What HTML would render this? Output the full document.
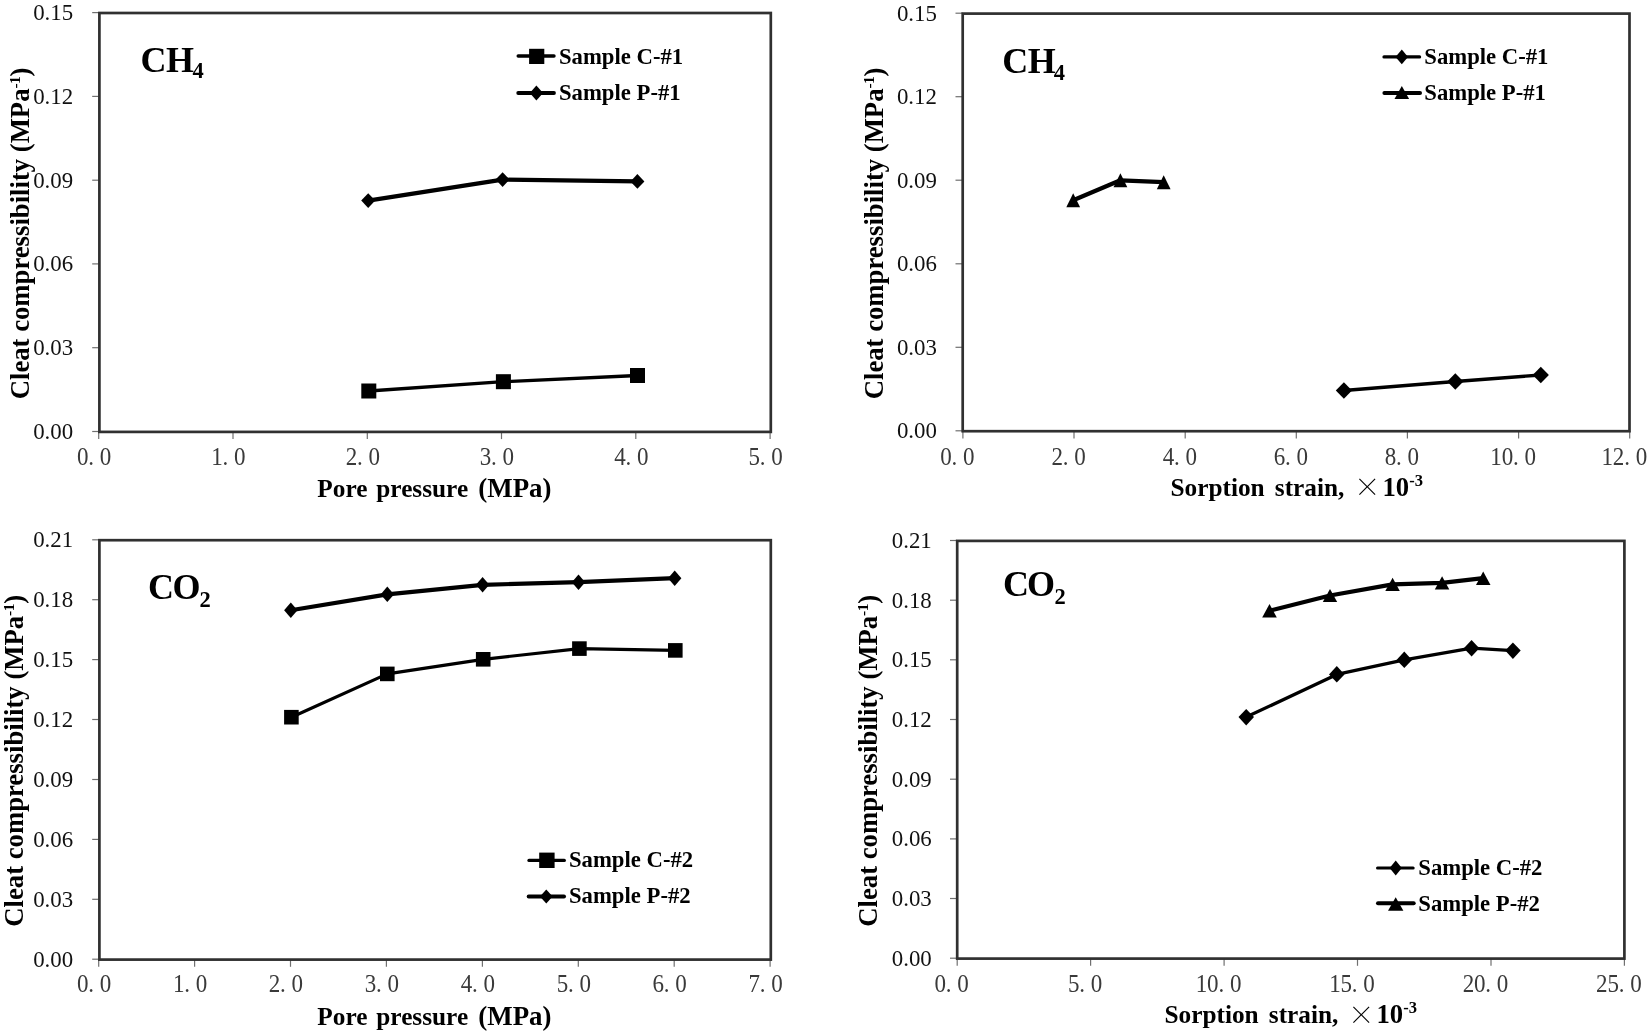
<!DOCTYPE html>
<html lang="en"><head><meta charset="utf-8"><title>Cleat compressibility charts</title>
<style>
html,body{margin:0;padding:0;background:#fff;}
body{width:1650px;height:1035px;overflow:hidden;}
svg{display:block;filter:blur(0.55px);}
text{font-family:"Liberation Serif", serif;fill:#1a1a1a;}
.fr{fill:none;stroke:#303030;stroke-width:2.7;}
.tk{stroke:#707070;stroke-width:1.2;}
.ln{fill:none;stroke:#000;stroke-linejoin:round;}
.yt{font-size:24px;fill:#111;}
.xt{fill:#3a3a3a;}
.lg{font-size:22.7px;font-weight:bold;fill:#000;}
.gas{font-size:36px;font-weight:bold;fill:#000;}
.ttl{font-size:25.3px;font-weight:bold;fill:#000;}
.ytl{font-size:26.7px;font-weight:bold;fill:#000;}
.mul{font-family:"Noto Serif CJK SC","Liberation Serif",serif;font-weight:400;}
</style></head><body>
<svg width="1650" height="1035" viewBox="0 0 1650 1035">
<rect width="1650" height="1035" fill="#fff"/>
<g>
<line class="tk" x1="92.2" x2="99.4" y1="431.5" y2="431.5"/>
<text class="yt" text-anchor="end" textLength="40" lengthAdjust="spacingAndGlyphs" x="73.2" y="438.8">0.00</text>
<line class="tk" x1="92.2" x2="99.4" y1="347.7" y2="347.7"/>
<text class="yt" text-anchor="end" textLength="40" lengthAdjust="spacingAndGlyphs" x="73.2" y="355.0">0.03</text>
<line class="tk" x1="92.2" x2="99.4" y1="263.9" y2="263.9"/>
<text class="yt" text-anchor="end" textLength="40" lengthAdjust="spacingAndGlyphs" x="73.2" y="271.2">0.06</text>
<line class="tk" x1="92.2" x2="99.4" y1="180.2" y2="180.2"/>
<text class="yt" text-anchor="end" textLength="40" lengthAdjust="spacingAndGlyphs" x="73.2" y="187.5">0.09</text>
<line class="tk" x1="92.2" x2="99.4" y1="96.4" y2="96.4"/>
<text class="yt" text-anchor="end" textLength="40" lengthAdjust="spacingAndGlyphs" x="73.2" y="103.7">0.12</text>
<line class="tk" x1="92.2" x2="99.4" y1="12.6" y2="12.6"/>
<text class="yt" text-anchor="end" textLength="40" lengthAdjust="spacingAndGlyphs" x="73.2" y="19.9">0.15</text>
<line class="tk" x1="98.7" x2="98.7" y1="431.9" y2="439.1"/>
<text class="xt" text-anchor="middle" transform="translate(94.2,464.6) scale(0.94,1)" x="-12.1 -3.2 12.1" y="0" font-size="24.5">0.0</text>
<line class="tk" x1="233.0" x2="233.0" y1="431.9" y2="439.1"/>
<text class="xt" text-anchor="middle" transform="translate(228.5,464.6) scale(0.94,1)" x="-12.1 -3.2 12.1" y="0" font-size="24.5">1.0</text>
<line class="tk" x1="367.3" x2="367.3" y1="431.9" y2="439.1"/>
<text class="xt" text-anchor="middle" transform="translate(362.8,464.6) scale(0.94,1)" x="-12.1 -3.2 12.1" y="0" font-size="24.5">2.0</text>
<line class="tk" x1="501.5" x2="501.5" y1="431.9" y2="439.1"/>
<text class="xt" text-anchor="middle" transform="translate(497.0,464.6) scale(0.94,1)" x="-12.1 -3.2 12.1" y="0" font-size="24.5">3.0</text>
<line class="tk" x1="635.8" x2="635.8" y1="431.9" y2="439.1"/>
<text class="xt" text-anchor="middle" transform="translate(631.3,464.6) scale(0.94,1)" x="-12.1 -3.2 12.1" y="0" font-size="24.5">4.0</text>
<line class="tk" x1="770.1" x2="770.1" y1="431.9" y2="439.1"/>
<text class="xt" text-anchor="middle" transform="translate(765.6,464.6) scale(0.94,1)" x="-12.1 -3.2 12.1" y="0" font-size="24.5">5.0</text>
<rect class="fr" x="99.4" y="13.0" width="671.4" height="418.9"/>
<polyline class="ln" stroke-width="4.2" points="368.2,200.6 502.6,179.6 637.4,181.4"/>
<polygon points="368.2,193.3 375.2,200.6 368.2,207.9 361.2,200.6"/>
<polygon points="502.6,172.3 509.6,179.6 502.6,186.9 495.6,179.6"/>
<polygon points="637.4,174.1 644.4,181.4 637.4,188.7 630.4,181.4"/>
<polyline class="ln" stroke-width="3.3" points="368.8,391.0 503.4,381.7 637.5,375.5"/>
<rect x="361.3" y="383.5" width="15.0" height="15.0"/>
<rect x="495.9" y="374.2" width="15.0" height="15.0"/>
<rect x="630.0" y="368.0" width="15.0" height="15.0"/>
<line class="ln" stroke-linecap="round" stroke-width="3.4" x1="518.2" x2="554.0" y1="56.0" y2="56.0"/>
<rect x="529.1" y="48.8" width="15.2" height="15.2"/>
<text class="lg" x="559.0" y="63.8">Sample C-#1</text>
<line class="ln" stroke-linecap="round" stroke-width="3.8" x1="518.2" x2="554.0" y1="93.0" y2="93.0"/>
<polygon points="536.4,85.5 543.0,93.0 536.4,100.5 529.8,93.0"/>
<text class="lg" x="559.0" y="100.2">Sample P-#1</text>
<text class="gas" x="140.5" y="71.8">C<tspan dx="-0.5">H</tspan><tspan font-size="22.5" dx="-1.5" dy="6.5">4</tspan></text>
<text class="ytl" transform="translate(29.3,399.3) rotate(-90)">Cleat compressibility (MPa<tspan font-size="15.5" dy="-9.3" letter-spacing="-0.6">-1</tspan><tspan dy="9.3" dx="0.3">)</tspan></text>
<text class="ttl" y="497.3"><tspan x="317.3">Pore </tspan><tspan x="376.3">pressure </tspan><tspan font-size="26.9" x="478.3">(MPa)</tspan></text>
</g>
<g>
<line class="tk" x1="955.5" x2="962.7" y1="430.8" y2="430.8"/>
<text class="yt" text-anchor="end" textLength="40" lengthAdjust="spacingAndGlyphs" x="936.9" y="438.1">0.00</text>
<line class="tk" x1="955.5" x2="962.7" y1="347.3" y2="347.3"/>
<text class="yt" text-anchor="end" textLength="40" lengthAdjust="spacingAndGlyphs" x="936.9" y="354.6">0.03</text>
<line class="tk" x1="955.5" x2="962.7" y1="263.8" y2="263.8"/>
<text class="yt" text-anchor="end" textLength="40" lengthAdjust="spacingAndGlyphs" x="936.9" y="271.1">0.06</text>
<line class="tk" x1="955.5" x2="962.7" y1="180.2" y2="180.2"/>
<text class="yt" text-anchor="end" textLength="40" lengthAdjust="spacingAndGlyphs" x="936.9" y="187.5">0.09</text>
<line class="tk" x1="955.5" x2="962.7" y1="96.7" y2="96.7"/>
<text class="yt" text-anchor="end" textLength="40" lengthAdjust="spacingAndGlyphs" x="936.9" y="104.0">0.12</text>
<line class="tk" x1="955.5" x2="962.7" y1="13.2" y2="13.2"/>
<text class="yt" text-anchor="end" textLength="40" lengthAdjust="spacingAndGlyphs" x="936.9" y="20.5">0.15</text>
<line class="tk" x1="962.9" x2="962.9" y1="431.2" y2="438.4"/>
<text class="xt" text-anchor="middle" transform="translate(957.5,464.5) scale(0.94,1)" x="-12.1 -3.2 12.1" y="0" font-size="24.5">0.0</text>
<line class="tk" x1="1074.0" x2="1074.0" y1="431.2" y2="438.4"/>
<text class="xt" text-anchor="middle" transform="translate(1068.6,464.5) scale(0.94,1)" x="-12.1 -3.2 12.1" y="0" font-size="24.5">2.0</text>
<line class="tk" x1="1185.2" x2="1185.2" y1="431.2" y2="438.4"/>
<text class="xt" text-anchor="middle" transform="translate(1179.8,464.5) scale(0.94,1)" x="-12.1 -3.2 12.1" y="0" font-size="24.5">4.0</text>
<line class="tk" x1="1296.3" x2="1296.3" y1="431.2" y2="438.4"/>
<text class="xt" text-anchor="middle" transform="translate(1290.9,464.5) scale(0.94,1)" x="-12.1 -3.2 12.1" y="0" font-size="24.5">6.0</text>
<line class="tk" x1="1407.4" x2="1407.4" y1="431.2" y2="438.4"/>
<text class="xt" text-anchor="middle" transform="translate(1402.0,464.5) scale(0.94,1)" x="-12.1 -3.2 12.1" y="0" font-size="24.5">8.0</text>
<line class="tk" x1="1518.6" x2="1518.6" y1="431.2" y2="438.4"/>
<text class="xt" text-anchor="middle" transform="translate(1513.2,464.5) scale(0.94,1)" x="-18.2 -6.1 2.9 18.2" y="0" font-size="24.5">10.0</text>
<line class="tk" x1="1629.7" x2="1629.7" y1="431.2" y2="438.4"/>
<text class="xt" text-anchor="middle" transform="translate(1624.3,464.5) scale(0.94,1)" x="-18.2 -6.1 2.9 18.2" y="0" font-size="24.5">12.0</text>
<rect class="fr" x="962.7" y="13.6" width="666.8" height="417.6"/>
<polyline class="ln" stroke-width="4.2" points="1073.2,200.2 1120.4,180.3 1163.7,182.2"/>
<polygon points="1073.2,193.2 1080.1,207.2 1066.3,207.2"/>
<polygon points="1120.4,173.3 1127.3,187.3 1113.5,187.3"/>
<polygon points="1163.7,175.2 1170.6,189.2 1156.8,189.2"/>
<polyline class="ln" stroke-width="3.3" points="1343.9,390.5 1455.3,381.5 1540.8,375.0"/>
<polygon points="1343.9,382.2 1352.0,390.5 1343.9,398.8 1335.8,390.5"/>
<polygon points="1455.3,373.2 1463.4,381.5 1455.3,389.8 1447.2,381.5"/>
<polygon points="1540.8,366.7 1548.9,375.0 1540.8,383.3 1532.7,375.0"/>
<line class="ln" stroke-linecap="round" stroke-width="3.2" x1="1384.0" x2="1419.6" y1="56.9" y2="56.9"/>
<polygon points="1401.8,49.6 1408.0,56.9 1401.8,64.2 1395.5,56.9"/>
<text class="lg" x="1424.3" y="63.8">Sample C-#1</text>
<line class="ln" stroke-linecap="round" stroke-width="4.0" x1="1384.4" x2="1420.0" y1="93.0" y2="93.0"/>
<polygon points="1401.8,86.0 1409.1,99.0 1394.5,99.0"/>
<text class="lg" x="1424.3" y="100.2">Sample P-#1</text>
<text class="gas" x="1002.3" y="73.0">C<tspan dx="-0.6">H</tspan><tspan font-size="22.5" dx="-2.0" dy="6.5">4</tspan></text>
<text class="ytl" transform="translate(882.8,399.3) rotate(-90)">Cleat compressibility (MPa<tspan font-size="15.5" dy="-9.3" letter-spacing="-0.6">-1</tspan><tspan dy="9.3" dx="0.3">)</tspan></text>
<text class="ttl" y="495.5"><tspan x="1170.5">Sorption </tspan><tspan x="1274.8">strain, </tspan><tspan class="mul" font-size="27" dy="1.6" x="1353.7">×</tspan><tspan font-size="26.7" dy="-1.6" x="1382.5">10</tspan><tspan font-size="16.5" dy="-10">-3</tspan></text>
</g>
<g>
<line class="tk" x1="92.2" x2="99.4" y1="959.2" y2="959.2"/>
<text class="yt" text-anchor="end" textLength="40" lengthAdjust="spacingAndGlyphs" x="73.2" y="966.5">0.00</text>
<line class="tk" x1="92.2" x2="99.4" y1="899.3" y2="899.3"/>
<text class="yt" text-anchor="end" textLength="40" lengthAdjust="spacingAndGlyphs" x="73.2" y="906.6">0.03</text>
<line class="tk" x1="92.2" x2="99.4" y1="839.4" y2="839.4"/>
<text class="yt" text-anchor="end" textLength="40" lengthAdjust="spacingAndGlyphs" x="73.2" y="846.7">0.06</text>
<line class="tk" x1="92.2" x2="99.4" y1="779.5" y2="779.5"/>
<text class="yt" text-anchor="end" textLength="40" lengthAdjust="spacingAndGlyphs" x="73.2" y="786.8">0.09</text>
<line class="tk" x1="92.2" x2="99.4" y1="719.5" y2="719.5"/>
<text class="yt" text-anchor="end" textLength="40" lengthAdjust="spacingAndGlyphs" x="73.2" y="726.8">0.12</text>
<line class="tk" x1="92.2" x2="99.4" y1="659.6" y2="659.6"/>
<text class="yt" text-anchor="end" textLength="40" lengthAdjust="spacingAndGlyphs" x="73.2" y="666.9">0.15</text>
<line class="tk" x1="92.2" x2="99.4" y1="599.7" y2="599.7"/>
<text class="yt" text-anchor="end" textLength="40" lengthAdjust="spacingAndGlyphs" x="73.2" y="607.0">0.18</text>
<line class="tk" x1="92.2" x2="99.4" y1="539.8" y2="539.8"/>
<text class="yt" text-anchor="end" textLength="40" lengthAdjust="spacingAndGlyphs" x="73.2" y="547.1">0.21</text>
<line class="tk" x1="98.7" x2="98.7" y1="959.6" y2="966.8"/>
<text class="xt" text-anchor="middle" transform="translate(94.2,991.8) scale(0.94,1)" x="-12.1 -3.2 12.1" y="0" font-size="24.5">0.0</text>
<line class="tk" x1="194.6" x2="194.6" y1="959.6" y2="966.8"/>
<text class="xt" text-anchor="middle" transform="translate(190.1,991.8) scale(0.94,1)" x="-12.1 -3.2 12.1" y="0" font-size="24.5">1.0</text>
<line class="tk" x1="290.5" x2="290.5" y1="959.6" y2="966.8"/>
<text class="xt" text-anchor="middle" transform="translate(286.0,991.8) scale(0.94,1)" x="-12.1 -3.2 12.1" y="0" font-size="24.5">2.0</text>
<line class="tk" x1="386.4" x2="386.4" y1="959.6" y2="966.8"/>
<text class="xt" text-anchor="middle" transform="translate(381.9,991.8) scale(0.94,1)" x="-12.1 -3.2 12.1" y="0" font-size="24.5">3.0</text>
<line class="tk" x1="482.4" x2="482.4" y1="959.6" y2="966.8"/>
<text class="xt" text-anchor="middle" transform="translate(477.9,991.8) scale(0.94,1)" x="-12.1 -3.2 12.1" y="0" font-size="24.5">4.0</text>
<line class="tk" x1="578.3" x2="578.3" y1="959.6" y2="966.8"/>
<text class="xt" text-anchor="middle" transform="translate(573.8,991.8) scale(0.94,1)" x="-12.1 -3.2 12.1" y="0" font-size="24.5">5.0</text>
<line class="tk" x1="674.2" x2="674.2" y1="959.6" y2="966.8"/>
<text class="xt" text-anchor="middle" transform="translate(669.7,991.8) scale(0.94,1)" x="-12.1 -3.2 12.1" y="0" font-size="24.5">6.0</text>
<line class="tk" x1="770.1" x2="770.1" y1="959.6" y2="966.8"/>
<text class="xt" text-anchor="middle" transform="translate(765.6,991.8) scale(0.94,1)" x="-12.1 -3.2 12.1" y="0" font-size="24.5">7.0</text>
<rect class="fr" x="99.4" y="540.2" width="671.4" height="419.4"/>
<polyline class="ln" stroke-width="4.2" points="290.8,610.3 387.3,594.4 482.6,584.8 578.5,582.2 674.7,578.2"/>
<polygon points="290.8,602.5 297.5,610.3 290.8,618.0 284.1,610.3"/>
<polygon points="387.3,586.6 394.0,594.4 387.3,602.1 380.6,594.4"/>
<polygon points="482.6,577.0 489.3,584.8 482.6,592.5 475.9,584.8"/>
<polygon points="578.5,574.5 585.2,582.2 578.5,590.0 571.8,582.2"/>
<polygon points="674.7,570.5 681.4,578.2 674.7,586.0 668.0,578.2"/>
<polyline class="ln" stroke-width="3.2" points="291.4,717.2 387.3,673.9 483.2,659.3 579.4,648.6 675.3,650.4"/>
<rect x="284.1" y="709.9" width="14.6" height="14.6"/>
<rect x="380.0" y="666.6" width="14.6" height="14.6"/>
<rect x="475.9" y="652.0" width="14.6" height="14.6"/>
<rect x="572.1" y="641.3" width="14.6" height="14.6"/>
<rect x="668.0" y="643.1" width="14.6" height="14.6"/>
<line class="ln" stroke-linecap="round" stroke-width="3.3" x1="529.0" x2="564.3" y1="860.4" y2="860.4"/>
<rect x="539.2" y="852.6" width="15.4" height="15.4"/>
<text class="lg" x="569.0" y="867.2">Sample C-#2</text>
<line class="ln" stroke-linecap="round" stroke-width="4.0" x1="528.7" x2="564.0" y1="896.4" y2="896.4"/>
<polygon points="546.3,889.4 552.6,896.4 546.3,903.4 539.9,896.4"/>
<text class="lg" x="569.0" y="903.2">Sample P-#2</text>
<text class="gas" x="148.1" y="599.0">C<tspan dx="-1.6">O</tspan><tspan font-size="22.5" dx="-1.0" dy="7.5">2</tspan></text>
<text class="ytl" transform="translate(23.3,926.7) rotate(-90)">Cleat compressibility (MPa<tspan font-size="15.5" dy="-9.3" letter-spacing="-0.6">-1</tspan><tspan dy="9.3" dx="0.3">)</tspan></text>
<text class="ttl" y="1025.0"><tspan x="317.3">Pore </tspan><tspan x="376.3">pressure </tspan><tspan font-size="26.9" x="478.3">(MPa)</tspan></text>
</g>
<g>
<line class="tk" x1="950.0" x2="957.2" y1="958.2" y2="958.2"/>
<text class="yt" text-anchor="end" textLength="40" lengthAdjust="spacingAndGlyphs" x="931.8" y="965.5">0.00</text>
<line class="tk" x1="950.0" x2="957.2" y1="898.5" y2="898.5"/>
<text class="yt" text-anchor="end" textLength="40" lengthAdjust="spacingAndGlyphs" x="931.8" y="905.8">0.03</text>
<line class="tk" x1="950.0" x2="957.2" y1="838.9" y2="838.9"/>
<text class="yt" text-anchor="end" textLength="40" lengthAdjust="spacingAndGlyphs" x="931.8" y="846.2">0.06</text>
<line class="tk" x1="950.0" x2="957.2" y1="779.2" y2="779.2"/>
<text class="yt" text-anchor="end" textLength="40" lengthAdjust="spacingAndGlyphs" x="931.8" y="786.5">0.09</text>
<line class="tk" x1="950.0" x2="957.2" y1="719.5" y2="719.5"/>
<text class="yt" text-anchor="end" textLength="40" lengthAdjust="spacingAndGlyphs" x="931.8" y="726.8">0.12</text>
<line class="tk" x1="950.0" x2="957.2" y1="659.8" y2="659.8"/>
<text class="yt" text-anchor="end" textLength="40" lengthAdjust="spacingAndGlyphs" x="931.8" y="667.1">0.15</text>
<line class="tk" x1="950.0" x2="957.2" y1="600.2" y2="600.2"/>
<text class="yt" text-anchor="end" textLength="40" lengthAdjust="spacingAndGlyphs" x="931.8" y="607.5">0.18</text>
<line class="tk" x1="950.0" x2="957.2" y1="540.5" y2="540.5"/>
<text class="yt" text-anchor="end" textLength="40" lengthAdjust="spacingAndGlyphs" x="931.8" y="547.8">0.21</text>
<line class="tk" x1="957.2" x2="957.2" y1="958.6" y2="965.8"/>
<text class="xt" text-anchor="middle" transform="translate(951.7,992.1) scale(0.94,1)" x="-12.1 -3.2 12.1" y="0" font-size="24.5">0.0</text>
<line class="tk" x1="1090.6" x2="1090.6" y1="958.6" y2="965.8"/>
<text class="xt" text-anchor="middle" transform="translate(1085.1,992.1) scale(0.94,1)" x="-12.1 -3.2 12.1" y="0" font-size="24.5">5.0</text>
<line class="tk" x1="1224.1" x2="1224.1" y1="958.6" y2="965.8"/>
<text class="xt" text-anchor="middle" transform="translate(1218.6,992.1) scale(0.94,1)" x="-18.2 -6.1 2.9 18.2" y="0" font-size="24.5">10.0</text>
<line class="tk" x1="1357.5" x2="1357.5" y1="958.6" y2="965.8"/>
<text class="xt" text-anchor="middle" transform="translate(1352.0,992.1) scale(0.94,1)" x="-18.2 -6.1 2.9 18.2" y="0" font-size="24.5">15.0</text>
<line class="tk" x1="1491.0" x2="1491.0" y1="958.6" y2="965.8"/>
<text class="xt" text-anchor="middle" transform="translate(1485.5,992.1) scale(0.94,1)" x="-18.2 -6.1 2.9 18.2" y="0" font-size="24.5">20.0</text>
<line class="tk" x1="1624.4" x2="1624.4" y1="958.6" y2="965.8"/>
<text class="xt" text-anchor="middle" transform="translate(1618.9,992.1) scale(0.94,1)" x="-18.2 -6.1 2.9 18.2" y="0" font-size="24.5">25.0</text>
<rect class="fr" x="957.2" y="540.9" width="667.2" height="417.7"/>
<polyline class="ln" stroke-width="4.2" points="1269.5,610.8 1330.0,595.5 1392.6,584.4 1442.1,582.9 1483.2,578.2"/>
<polygon points="1269.5,604.1 1276.8,617.4 1262.2,617.4"/>
<polygon points="1330.0,588.9 1337.2,602.1 1322.8,602.1"/>
<polygon points="1392.6,577.8 1399.8,591.0 1385.3,591.0"/>
<polygon points="1442.1,576.2 1449.3,589.5 1434.8,589.5"/>
<polygon points="1483.2,571.6 1490.5,584.9 1476.0,584.9"/>
<polyline class="ln" stroke-width="3.3" points="1246.2,717.1 1336.8,674.4 1404.3,659.9 1471.6,648.2 1512.9,650.6"/>
<polygon points="1246.2,708.9 1254.0,717.1 1246.2,725.4 1238.5,717.1"/>
<polygon points="1336.8,666.1 1344.5,674.4 1336.8,682.6 1329.0,674.4"/>
<polygon points="1404.3,651.6 1412.0,659.9 1404.3,668.1 1396.5,659.9"/>
<polygon points="1471.6,640.0 1479.3,648.2 1471.6,656.5 1463.8,648.2"/>
<polygon points="1512.9,642.4 1520.7,650.6 1512.9,658.9 1505.2,650.6"/>
<line class="ln" stroke-linecap="round" stroke-width="3.0" x1="1377.5" x2="1413.2" y1="868.0" y2="868.0"/>
<polygon points="1395.7,860.6 1401.8,868.0 1395.7,875.4 1389.6,868.0"/>
<text class="lg" x="1418.3" y="874.5">Sample C-#2</text>
<line class="ln" stroke-linecap="round" stroke-width="4.0" x1="1378.0" x2="1413.7" y1="903.3" y2="903.3"/>
<polygon points="1395.7,897.3 1403.4,910.7 1388.0,910.7"/>
<text class="lg" x="1418.3" y="910.5">Sample P-#2</text>
<text class="gas" x="1003.0" y="596.0">C<tspan dx="-2.0">O</tspan><tspan font-size="22.5" dx="-0.6" dy="7.5">2</tspan></text>
<text class="ytl" transform="translate(877.1,926.7) rotate(-90)">Cleat compressibility (MPa<tspan font-size="15.5" dy="-9.3" letter-spacing="-0.6">-1</tspan><tspan dy="9.3" dx="0.3">)</tspan></text>
<text class="ttl" y="1023.4"><tspan x="1164.5">Sorption </tspan><tspan x="1268.8">strain, </tspan><tspan class="mul" font-size="27" dy="1.6" x="1347.7">×</tspan><tspan font-size="26.7" dy="-1.6" x="1376.5">10</tspan><tspan font-size="16.5" dy="-10">-3</tspan></text>
</g>
</svg></body></html>
